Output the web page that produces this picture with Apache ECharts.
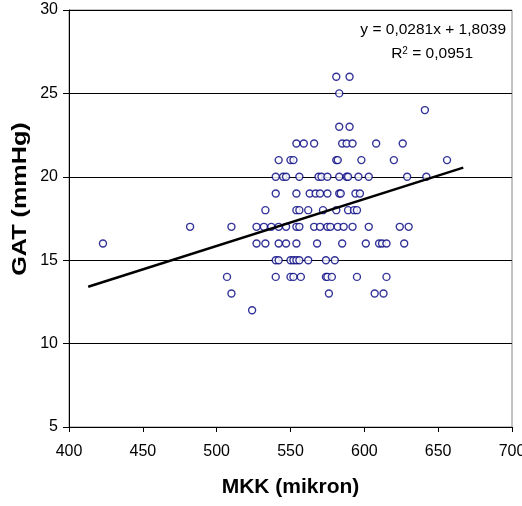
<!DOCTYPE html>
<html>
<head>
<meta charset="utf-8">
<script src="https://cdn.jsdelivr.net/npm/echarts@6/dist/echarts.min.js"></script>
<style>
html,body{margin:0;padding:0;background:#fff;}
#c{width:522px;height:506px;}
</style>
</head>
<body>
<div id="c"></div>
<script>
// MKK (mikron) values grouped by GAT (mmHg) level
var gatLevels = [26, 25, 24, 23, 22, 21, 20, 19, 18, 17, 16, 15, 14, 13, 12];
var mkk26 = [581, 590];
var mkk25 = [583];
var mkk24 = [641];
var mkk23 = [583, 590];
var mkk22 = [554, 559, 566, 585, 588, 592, 608, 626];
var mkk21 = [542, 550, 552, 581, 582, 598, 620, 656];
var mkk20 = [540, 545, 547, 556, 569, 571, 575, 583, 588, 589, 596, 603, 629, 642];
var mkk19 = [540, 554, 563, 567, 570, 575, 583, 584, 594, 597];
var mkk18 = [533, 554, 556, 562, 572, 581, 589, 593, 595];
var mkk17 = [482, 510, 527, 532, 537, 542, 547, 554, 556, 566, 570, 575, 577, 582, 586, 592, 603, 624, 630];
var mkk16 = [423, 527, 533, 542, 547, 554, 568, 585, 601, 610, 612, 615, 627];
var mkk15 = [540, 542, 550, 552, 554, 556, 562, 574, 580];
var mkk14 = [507, 540, 550, 552, 557, 574, 575, 578, 595, 615];
var mkk13 = [510, 576, 607, 613];
var mkk12 = [524];
var mkkGroups = [mkk26, mkk25, mkk24, mkk23, mkk22, mkk21, mkk20, mkk19, mkk18, mkk17, mkk16, mkk15, mkk14, mkk13, mkk12];

// trendline y = 0,0281x + 1,8039
var trendSlope = 0.0281;
var trendIntercept = 1.8039;
var trendX = [413, 667];
var equationText = 'y = 0,0281x + 1,8039';
var r2Text = 'R{sup|2} = 0,0951';
var xTitle = 'MKK (mikron)';
var yTitle = 'GAT (mmHg)';

var xTicks = [400, 450, 500, 550, 600, 650, 700];
var yTicks = [5, 10, 15, 20, 25, 30];

var points = [];
gatLevels.forEach(function (g, i) {
  mkkGroups[i].forEach(function (x) { points.push([x, g]); });
});
var trendData = trendX.map(function (x) { return [x, trendSlope * x + trendIntercept]; });

var FONT = '"Liberation Sans", Arial, sans-serif';
var chart = echarts.init(document.getElementById('c'), null, {renderer: 'canvas'});
chart.setOption({
  animation: false,
  backgroundColor: '#ffffff',
  grid: {left: 69, top: 10, width: 443, height: 417, containLabel: false, outerBoundsMode: 'none',
    show: true, borderColor: '#888', borderWidth: 1, backgroundColor: 'transparent'},
  xAxis: {
    type: 'value', min: xTicks[0], max: xTicks[xTicks.length - 1], interval: 50,
    name: xTitle, nameLocation: 'middle', nameGap: 50,
    nameTextStyle: {fontFamily: FONT, fontSize: 21, fontWeight: 'bold', color: '#000'},
    axisLine: {show: true, onZero: false, lineStyle: {color: '#000', width: 1}},
    axisTick: {show: true, inside: false, length: 5, lineStyle: {color: '#000'}},
    axisLabel: {fontFamily: FONT, fontSize: 16, color: '#000', margin: 17, hideOverlap: false},
    splitLine: {show: false}
  },
  yAxis: {
    type: 'value', min: yTicks[0], max: yTicks[yTicks.length - 1], interval: 5,
    axisLine: {show: true, onZero: false, lineStyle: {color: '#000', width: 1}},
    axisTick: {show: true, inside: false, length: 6, lineStyle: {color: '#000'}},
    axisLabel: {fontFamily: FONT, fontSize: 16, color: '#000', margin: 11},
    splitLine: {show: true, lineStyle: {color: '#000', width: 1}}
  },
  series: [
    {
      type: 'scatter', data: points, symbol: 'circle', symbolSize: 7,
      itemStyle: {color: '#ffffff', borderColor: '#000080', borderWidth: 1.4},
      z: 3
    },
    {
      type: 'line', data: trendData, showSymbol: false, symbol: 'none',
      lineStyle: {color: '#000', width: 2.5}, z: 4, silent: true
    }
  ],
  graphic: [
    {type: 'text', x: 506, y: 30, style: {text: equationText, font: '15.5px ' + FONT, fill: '#000', textAlign: 'right', textVerticalAlign: 'middle'}},
    {type: 'text', x: 473, y: 54, style: {text: r2Text, font: '15.5px ' + FONT, fill: '#000', textAlign: 'right', textVerticalAlign: 'middle',
      rich: {sup: {fontSize: 10, verticalAlign: 'top', lineHeight: 10, padding: [0, 0, 8, 0], fontFamily: FONT}}}},
    {type: 'text', x: 20.5, y: 199, rotation: Math.PI / 2, scaleX: 1.2,
      style: {text: yTitle, font: 'bold 21px ' + FONT, fill: '#000', textAlign: 'center', textVerticalAlign: 'middle'}}
  ]
});
</script>
</body>
</html>
